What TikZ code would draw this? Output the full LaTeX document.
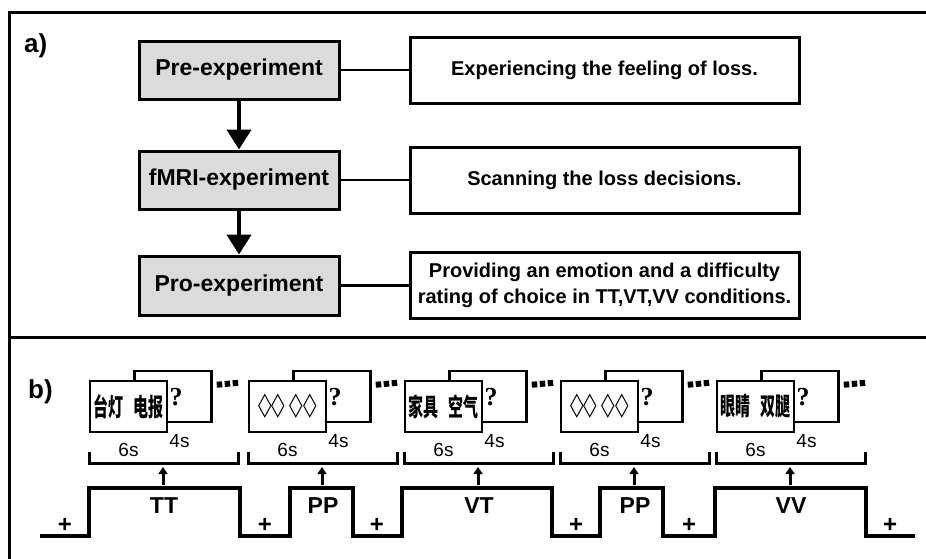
\documentclass[tikz,border=0pt]{standalone}
\usepackage{fontspec}
\setmainfont{Liberation Sans}
\newfontfamily\cjkfont{Noto Sans CJK SC}
\newfontfamily\symfont{DejaVu Sans}
\newfontfamily\qfont{Liberation Serif}
\usetikzlibrary{arrows.meta, positioning}

\definecolor{stagegray}{gray}{0.86}
\newcommand\hanzi[2]{\scalebox{0.6}[1]{\fontsize{25}{25}\selectfont\cjkfont\bfseries #1\hspace{16pt}#2}}
\newcommand\rhombi{\scalebox{0.55}[1]{\fontsize{32}{32}\selectfont\symfont\bfseries ◇◇\hspace{8pt}◇◇}}

\begin{document}
\begin{tikzpicture}[
  x=1pt, y=-1pt,
  stage/.style = {draw, line width=3pt, fill=stagegray, minimum width=200pt, minimum height=58pt, inner sep=0pt, font=\fontsize{23}{26}\selectfont\bfseries},
  task/.style = {draw, line width=3pt, minimum width=389pt, minimum height=66pt, inner sep=0pt, align=center, font=\fontsize{20}{26}\selectfont\bfseries},
  link/.style = {line width=2.5pt},
  arrow/.style = {line width=4.5pt, -{Triangle[width=24pt,length=20pt]}},
  card/.style = {draw, line width=2.5pt, fill=white, minimum width=77pt, minimum height=51pt, inner sep=0pt},
  secs/.style = {inner sep=1pt, font=\fontsize{19}{19}\selectfont},
  qmark/.style = {inner sep=0pt, font=\fontsize{26}{26}\selectfont\qfont\bfseries},
  cond/.style = {inner sep=0pt, font=\fontsize{23}{23}\selectfont\bfseries},
  fix/.style = {inner sep=0pt, font=\fontsize{24}{24}\selectfont\bfseries},
  brace/.style = {line width=3pt},
  uparrow/.style = {line width=3pt, -{Triangle[width=9pt,length=7pt]}},
  dots/.style = {line width=6pt, dash pattern=on 5.5pt off 2.5pt},
  panel/.style = {inner sep=0pt, anchor=base west, font=\fontsize{26}{26}\selectfont\bfseries}
]
\useasboundingbox (0,0) rectangle (926,558);

  % Frame
  \draw[line width=3pt] (9,600) -- (9,12) -- (960,12);
  \draw[line width=3pt] (9,337) -- (960,337);
  \node[panel] (pa) at (24,52) {a)};
  \node[panel] (pb) at (28,398) {b)};

  % Procedure
  \node[stage] (pre) at (239,70) {Pre-experiment};
  \node[stage, below=49pt of pre] (fmri) {fMRI-experiment};
  \node[stage, below=44pt of fmri, minimum height=59pt] (pro) {Pro-experiment};

  \node[task, right=68pt of pre] (t1) {Experiencing the feeling of loss.};
  \node[task, right=68pt of fmri] (t2) {Scanning the loss decisions.};
  \node[task, right=68pt of pro] (t3) {Providing an emotion and a difficulty\\rating of choice in TT,VT,VV conditions.};

  \draw[arrow] (pre) -- (fmri);
  \draw[arrow] (fmri) -- (pro);
  \draw[link] (pre) -- (t1);
  \draw[link] (fmri) -- (t2);
  \draw[link] (pro) -- (t3);

  % Trials
  \foreach \x/\cond/\stim [count=\i] in {89/TT/{\hanzi{台灯}{电报}}, 248/PP/{\rhombi}, 404/VT/{\hanzi{家具}{空气}}, 560/PP/{\rhombi}, 716/VV/{\hanzi{眼睛}{双腿}}}{
    \node[card] (back\i) at (\x+84,396.5) {};
    \node[card] (front\i) at (\x+39.5,406.5) {\stim};
    \node[qmark] (q\i) at (\x+87,397) {?};
    \node[secs, anchor=north west] (four\i) at (front\i.south east) {4s};
    \node[secs, anchor=north] (six\i) at ([yshift=-9pt]front\i.south) {6s};
    \draw[dots] ([shift={(4pt,-15pt)}]back\i.north east) -- ++(22,-2);
    \draw[brace] (\x,452) |- (\x+149,463) -- (\x+149,452);
    \node[cond] (c\i) at (\x+75,506) {\cond};
    \coordinate (lo\i) at (\x+74,485);
    \coordinate (hi\i) at (\x+74,467);
    \draw[uparrow] (lo\i) -- (hi\i);
  }

  % Block design
  \draw[line width=4pt] (40,536) -- (89,536) -- (89,488) -- (240,488) -- (240,536)
    -- (290,536) -- (290,488) -- (353,488) -- (353,536) -- (402,536) -- (402,488)
    -- (552,488) -- (552,536) -- (600,536) -- (600,488) -- (663,488) -- (663,536)
    -- (715,536) -- (715,488) -- (866,488) -- (866,536) -- (915,536);
  \foreach \x [count=\i] in {65,265,377,576,689,890}
    \node[fix] (plus\i) at (\x,525) {+};

\end{tikzpicture}
\end{document}
